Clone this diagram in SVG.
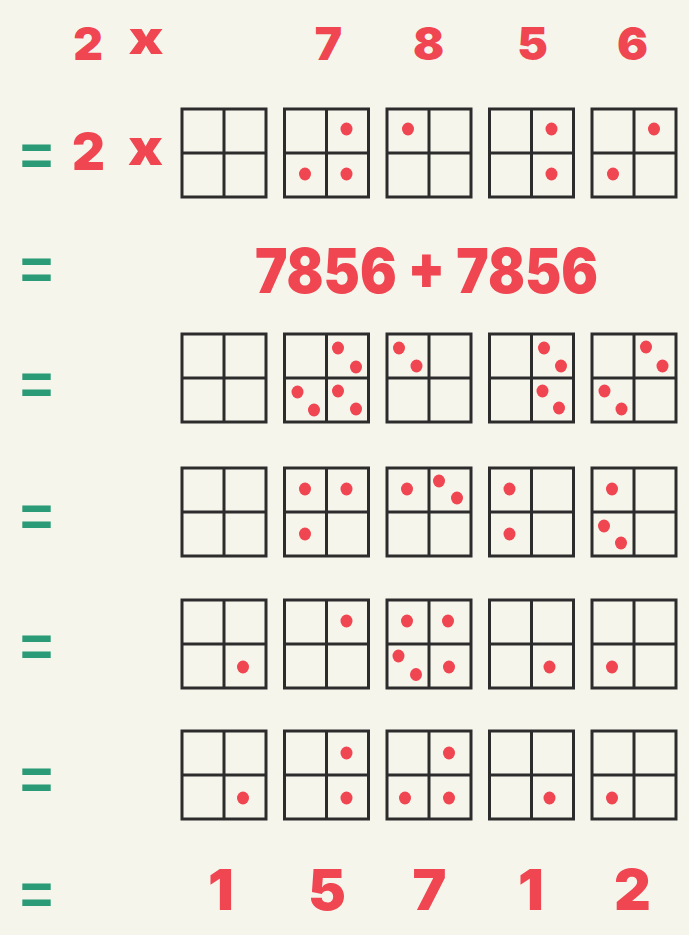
<svg xmlns="http://www.w3.org/2000/svg" xmlns:xlink="http://www.w3.org/1999/xlink" width="689" height="935" viewBox="0 0 689 935">
  <style>
    .num { font-family: "Inter", "Lato", "Liberation Sans", sans-serif; font-weight: 900; fill: #EF4651; text-anchor: middle; }
    .eq { font-family: "Liberation Sans", sans-serif; font-weight: bold; fill: #2A9B76; font-size: 60px; }
    .frame { fill: none; stroke: #2C2C2C; stroke-width: 3; }
    .dot { fill: #EF4651; }
  </style>
  <defs>
    <g id="grid">
      <rect class="frame" x="0" y="0" width="84" height="88"/>
      <line class="frame" x1="42" y1="0" x2="42" y2="88"/>
      <line class="frame" x1="0" y1="44" x2="84" y2="44"/>
    </g>
  </defs>
  <rect x="0" y="0" width="689" height="935" fill="#F6F5EC"/>

  <!-- equals signs -->
  <g id="equals">
    <text class="eq" x="20" y="175" textLength="33" lengthAdjust="spacingAndGlyphs">=</text>
    <text class="eq" x="20" y="289" textLength="33" lengthAdjust="spacingAndGlyphs">=</text>
    <text class="eq" x="20" y="404" textLength="33" lengthAdjust="spacingAndGlyphs">=</text>
    <text class="eq" x="20" y="536" textLength="33" lengthAdjust="spacingAndGlyphs">=</text>
    <text class="eq" x="20" y="666" textLength="33" lengthAdjust="spacingAndGlyphs">=</text>
    <text class="eq" x="20" y="799" textLength="33" lengthAdjust="spacingAndGlyphs">=</text>
    <text class="eq" x="20" y="914" textLength="33" lengthAdjust="spacingAndGlyphs">=</text>
  </g>

  <!-- top line: 2 x 7 8 5 6 -->
  <g id="top-line">
    <text class="num" x="88" y="60" font-size="46">2</text>
    <text class="num" x="146" y="54" font-size="46" textLength="35" lengthAdjust="spacingAndGlyphs">x</text>
    <text class="num" x="328.5" y="60" font-size="46">7</text>
    <text class="num" x="428.5" y="60" font-size="46">8</text>
    <text class="num" x="532.5" y="60" font-size="46">5</text>
    <text class="num" x="632.5" y="60" font-size="46">6</text>
  </g>

  <!-- row 1: 2 x grids -->
  <g id="row1-factor">
    <text class="num" x="88.5" y="170" font-size="51">2</text>
    <text class="num" x="145.5" y="165" font-size="50" textLength="35" lengthAdjust="spacingAndGlyphs">x</text>
  </g>
  <g id="r1c1" transform="translate(182,109)"><use xlink:href="#grid"/></g>
  <g id="r1c2" transform="translate(284.5,109)"><use xlink:href="#grid"/>
    <ellipse class="dot" cx="62" cy="20" rx="6" ry="6.5"/>
    <ellipse class="dot" cx="20.5" cy="65" rx="6" ry="6.5"/>
    <ellipse class="dot" cx="62" cy="65" rx="6" ry="6.5"/>
  </g>
  <g id="r1c3" transform="translate(387,109)"><use xlink:href="#grid"/>
    <ellipse class="dot" cx="21" cy="20" rx="6" ry="6.5"/>
  </g>
  <g id="r1c4" transform="translate(489.5,109)"><use xlink:href="#grid"/>
    <ellipse class="dot" cx="62" cy="20" rx="6" ry="6.5"/>
    <ellipse class="dot" cx="62" cy="65" rx="6" ry="6.5"/>
  </g>
  <g id="r1c5" transform="translate(592,109)"><use xlink:href="#grid"/>
    <ellipse class="dot" cx="62" cy="20" rx="6" ry="6.5"/>
    <ellipse class="dot" cx="21" cy="65" rx="6" ry="6.5"/>
  </g>

  <!-- sum line -->
  <g id="sum-line">
    <text class="num" transform="translate(426.5,293) scale(0.88,1)" x="0" y="0" font-size="62">7856 + 7856</text>
  </g>

  <!-- row 2 -->
  <g id="r2c1" transform="translate(182,334)"><use xlink:href="#grid"/></g>
  <g id="r2c2" transform="translate(284.5,334)"><use xlink:href="#grid"/>
    <ellipse class="dot" cx="53.5" cy="14" rx="6" ry="6.5"/>
    <ellipse class="dot" cx="71.5" cy="33" rx="6" ry="6.5"/>
    <ellipse class="dot" cx="13" cy="58" rx="6" ry="6.5"/>
    <ellipse class="dot" cx="29.5" cy="76" rx="6" ry="6.5"/>
    <ellipse class="dot" cx="53.5" cy="57" rx="6" ry="6.5"/>
    <ellipse class="dot" cx="71.5" cy="75" rx="6" ry="6.5"/>
  </g>
  <g id="r2c3" transform="translate(387,334)"><use xlink:href="#grid"/>
    <ellipse class="dot" cx="12" cy="14" rx="6" ry="6.5"/>
    <ellipse class="dot" cx="29.5" cy="32" rx="6" ry="6.5"/>
  </g>
  <g id="r2c4" transform="translate(489.5,334)"><use xlink:href="#grid"/>
    <ellipse class="dot" cx="54.5" cy="14" rx="6" ry="6.5"/>
    <ellipse class="dot" cx="71.5" cy="32" rx="6" ry="6.5"/>
    <ellipse class="dot" cx="53" cy="57" rx="6" ry="6.5"/>
    <ellipse class="dot" cx="69.5" cy="74" rx="6" ry="6.5"/>
  </g>
  <g id="r2c5" transform="translate(592,334)"><use xlink:href="#grid"/>
    <ellipse class="dot" cx="54" cy="13" rx="6" ry="6.5"/>
    <ellipse class="dot" cx="70.5" cy="32" rx="6" ry="6.5"/>
    <ellipse class="dot" cx="12.5" cy="57" rx="6" ry="6.5"/>
    <ellipse class="dot" cx="29.5" cy="75" rx="6" ry="6.5"/>
  </g>

  <!-- row 3 -->
  <g id="r3c1" transform="translate(182,468)"><use xlink:href="#grid"/></g>
  <g id="r3c2" transform="translate(284.5,468)"><use xlink:href="#grid"/>
    <ellipse class="dot" cx="20.5" cy="21" rx="6" ry="6.5"/>
    <ellipse class="dot" cx="62" cy="21" rx="6" ry="6.5"/>
    <ellipse class="dot" cx="20.5" cy="66" rx="6" ry="6.5"/>
  </g>
  <g id="r3c3" transform="translate(387,468)"><use xlink:href="#grid"/>
    <ellipse class="dot" cx="20" cy="21" rx="6" ry="6.5"/>
    <ellipse class="dot" cx="52" cy="13" rx="6" ry="6.5"/>
    <ellipse class="dot" cx="70" cy="30" rx="6" ry="6.5"/>
  </g>
  <g id="r3c4" transform="translate(489.5,468)"><use xlink:href="#grid"/>
    <ellipse class="dot" cx="20" cy="21" rx="6" ry="6.5"/>
    <ellipse class="dot" cx="20" cy="66" rx="6" ry="6.5"/>
  </g>
  <g id="r3c5" transform="translate(592,468)"><use xlink:href="#grid"/>
    <ellipse class="dot" cx="20" cy="21" rx="6" ry="6.5"/>
    <ellipse class="dot" cx="12" cy="58" rx="6" ry="6.5"/>
    <ellipse class="dot" cx="29" cy="75" rx="6" ry="6.5"/>
  </g>

  <!-- row 4 -->
  <g id="r4c1" transform="translate(182,600)"><use xlink:href="#grid"/>
    <ellipse class="dot" cx="61" cy="67" rx="6" ry="6.5"/>
  </g>
  <g id="r4c2" transform="translate(284.5,600)"><use xlink:href="#grid"/>
    <ellipse class="dot" cx="62" cy="21" rx="6" ry="6.5"/>
  </g>
  <g id="r4c3" transform="translate(387,600)"><use xlink:href="#grid"/>
    <ellipse class="dot" cx="20" cy="21" rx="6" ry="6.5"/>
    <ellipse class="dot" cx="61" cy="21" rx="6" ry="6.5"/>
    <ellipse class="dot" cx="11.5" cy="56" rx="6" ry="6.5"/>
    <ellipse class="dot" cx="29" cy="74.5" rx="6" ry="6.5"/>
    <ellipse class="dot" cx="62" cy="67" rx="6" ry="6.5"/>
  </g>
  <g id="r4c4" transform="translate(489.5,600)"><use xlink:href="#grid"/>
    <ellipse class="dot" cx="60" cy="67" rx="6" ry="6.5"/>
  </g>
  <g id="r4c5" transform="translate(592,600)"><use xlink:href="#grid"/>
    <ellipse class="dot" cx="20" cy="67" rx="6" ry="6.5"/>
  </g>

  <!-- row 5 -->
  <g id="r5c1" transform="translate(182,731)"><use xlink:href="#grid"/>
    <ellipse class="dot" cx="61" cy="67" rx="6" ry="6.5"/>
  </g>
  <g id="r5c2" transform="translate(284.5,731)"><use xlink:href="#grid"/>
    <ellipse class="dot" cx="62" cy="22" rx="6" ry="6.5"/>
    <ellipse class="dot" cx="62" cy="67" rx="6" ry="6.5"/>
  </g>
  <g id="r5c3" transform="translate(387,731)"><use xlink:href="#grid"/>
    <ellipse class="dot" cx="62" cy="22" rx="6" ry="6.5"/>
    <ellipse class="dot" cx="18" cy="67" rx="6" ry="6.5"/>
    <ellipse class="dot" cx="62" cy="67" rx="6" ry="6.5"/>
  </g>
  <g id="r5c4" transform="translate(489.5,731)"><use xlink:href="#grid"/>
    <ellipse class="dot" cx="60" cy="67" rx="6" ry="6.5"/>
  </g>
  <g id="r5c5" transform="translate(592,731)"><use xlink:href="#grid"/>
    <ellipse class="dot" cx="20" cy="67" rx="6" ry="6.5"/>
  </g>

  <!-- result line -->
  <g id="result-line">
    <text class="num" x="221" y="910" font-size="57">1</text>
    <text class="num" x="327" y="910" font-size="57">5</text>
    <text class="num" x="429.5" y="910" font-size="57">7</text>
    <text class="num" x="531" y="910" font-size="57">1</text>
    <text class="num" x="632.5" y="910" font-size="57">2</text>
  </g>
</svg>
